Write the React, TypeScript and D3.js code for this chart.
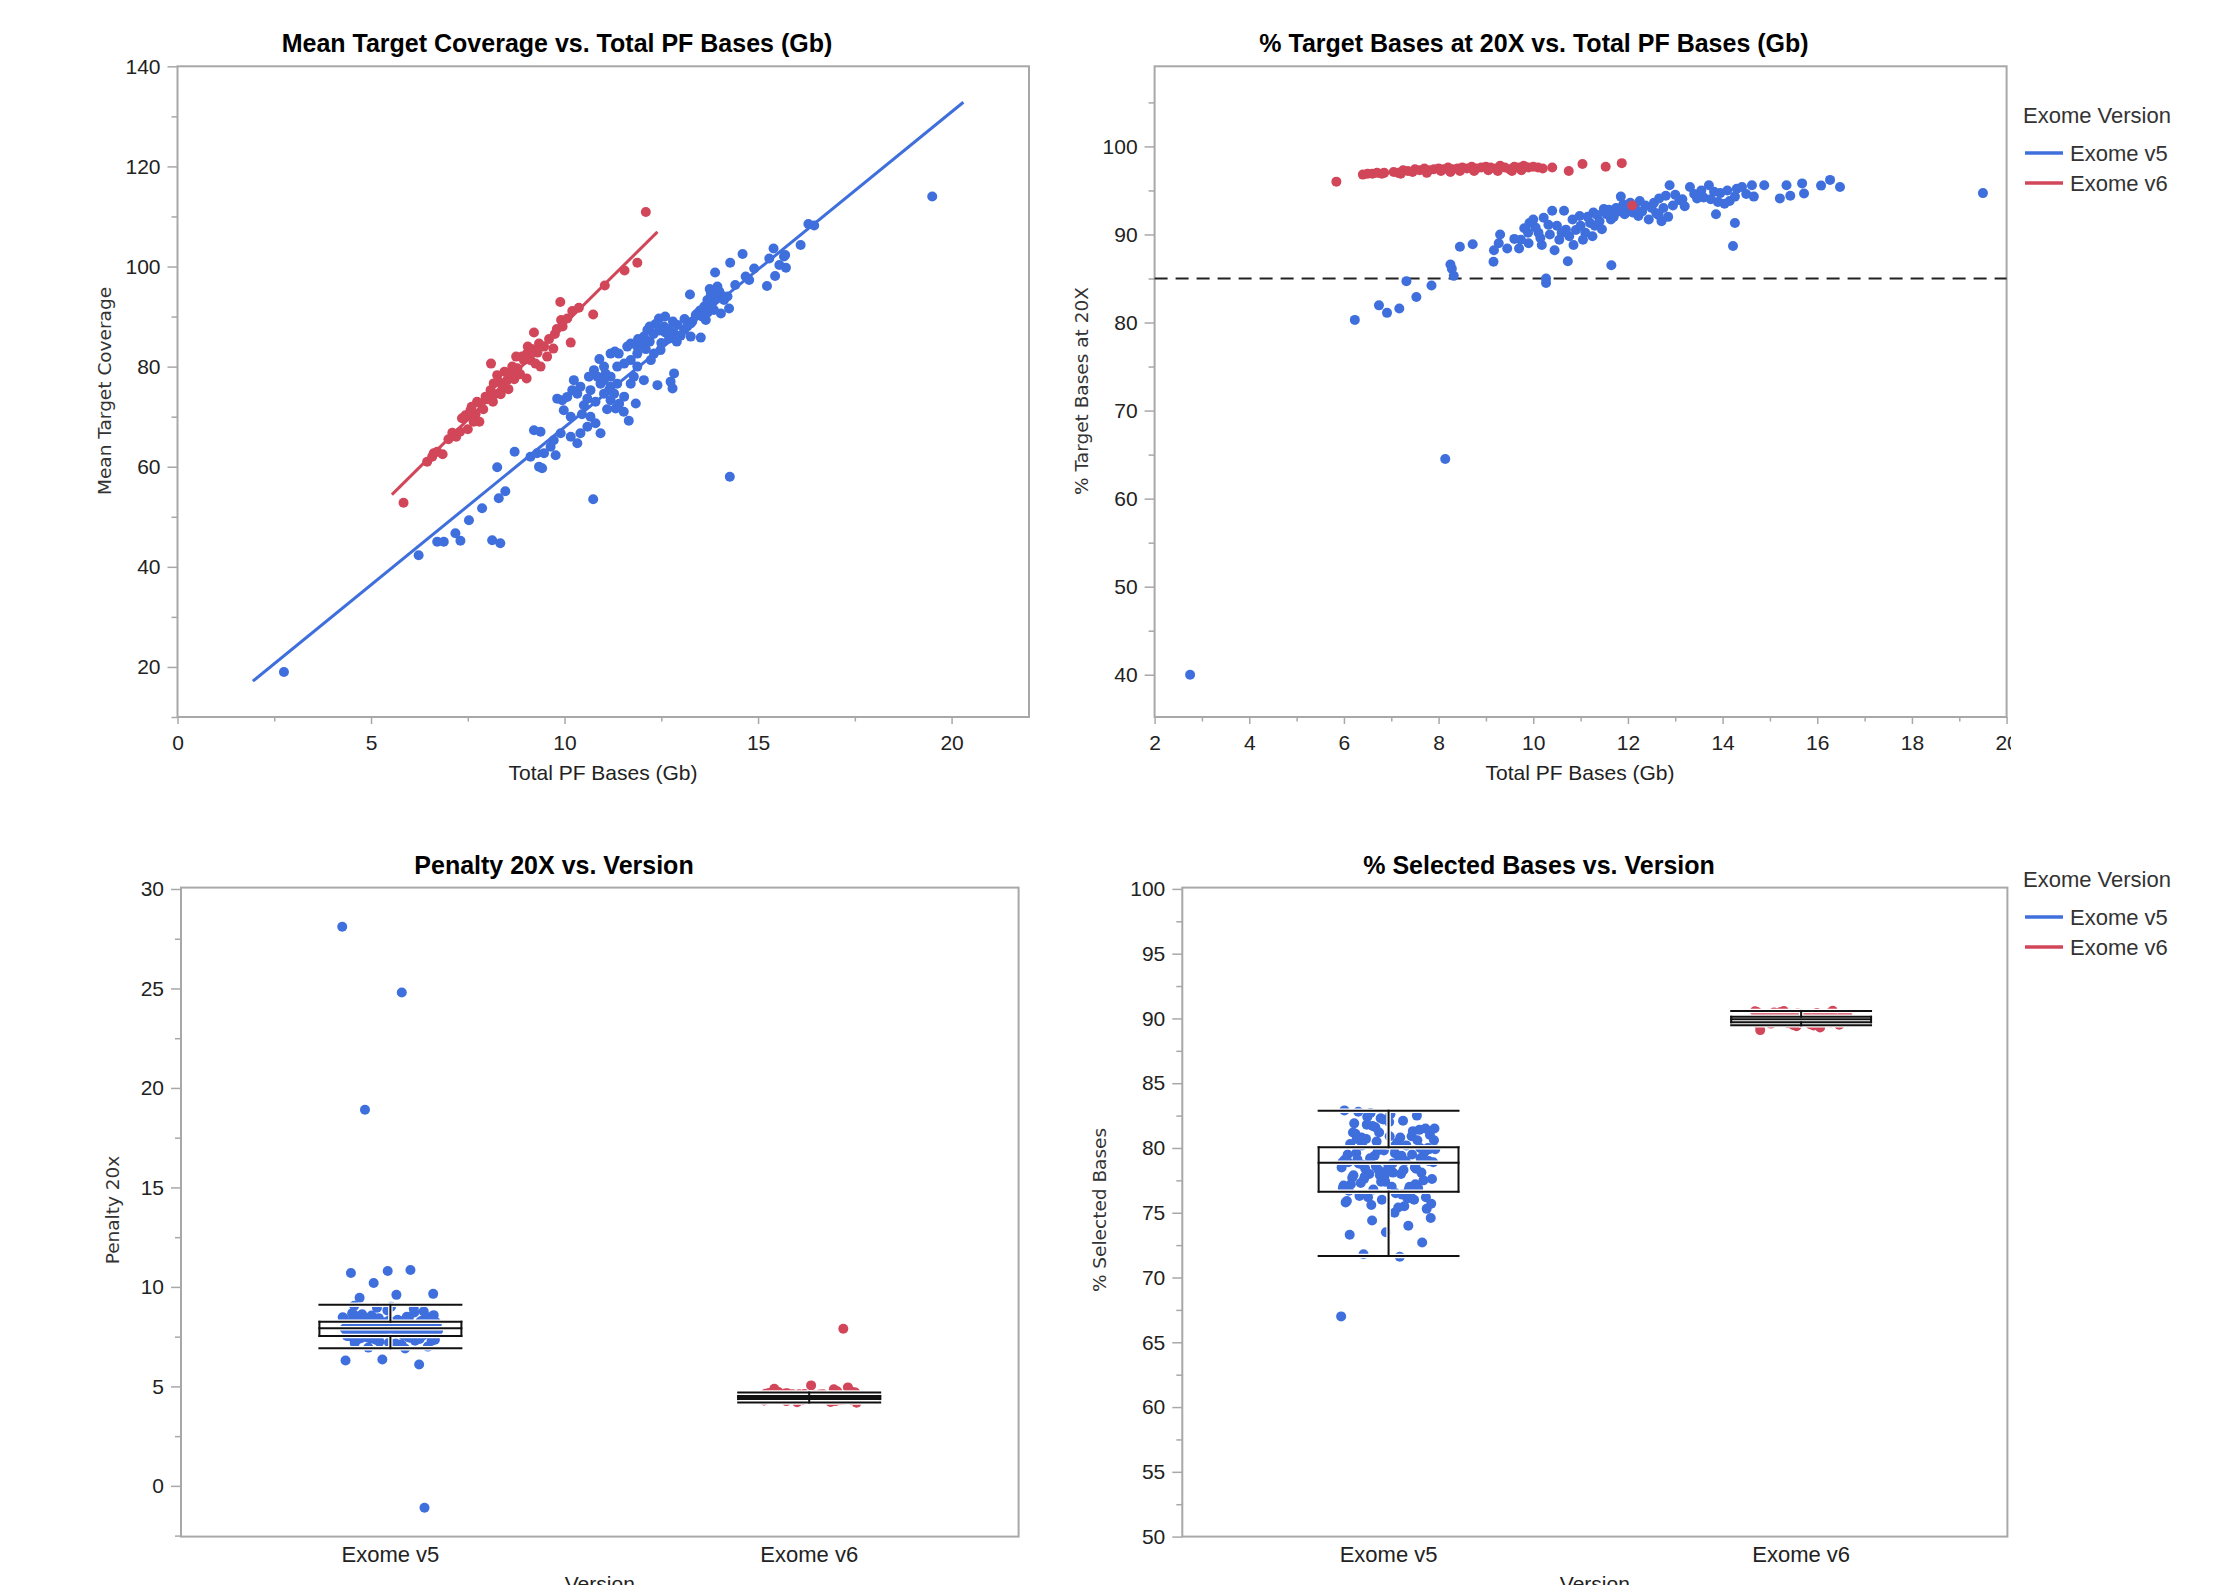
import React, { useEffect, useRef } from 'react';
import * as d3 from 'd3';

type Pt = [number, number];

const BLUE = '#3f6fdd';
const RED = '#d2465a';
const FRAME = '#a8a8a8';

const versions = ['Exome v5', 'Exome v6'];

// Mean Target Coverage vs Total PF Bases (Gb): [Gb, coverage]
const v5Coverage: Pt[] = [
  [2.75, 19.0], [6.23, 42.3], [6.71, 45.0], [6.88, 45.0], [7.18, 46.7], [7.31, 45.2], [7.53, 49.3], [7.87, 51.7],
  [8.13, 45.3], [8.34, 44.7], [8.3, 53.7], [8.47, 55.1], [8.26, 59.9], [8.71, 63.0], [9.12, 62.0], [9.29, 62.7],
  [9.47, 62.7], [9.34, 60.0], [9.42, 59.7], [9.77, 62.3], [9.21, 67.3], [9.38, 67.0], [9.64, 64.0], [9.72, 65.3],
  [9.9, 66.7], [10.16, 66.0], [10.33, 64.7], [10.41, 66.7], [10.59, 68.0], [10.93, 66.7], [10.8, 68.7], [10.67, 70.0],
  [10.16, 70.0], [9.98, 71.3], [9.81, 73.6], [9.94, 73.3], [10.07, 73.95], [10.2, 75.3], [10.33, 74.6], [10.5, 72.3],
  [10.59, 73.6], [10.67, 75.3], [10.63, 78.0], [10.76, 79.3], [10.85, 78.0], [11.02, 80.0], [11.06, 78.6], [11.19, 78.0],
  [10.93, 76.6], [11.02, 74.6], [11.19, 73.3], [11.36, 76.6], [10.74, 53.5], [14.27, 58.0],
  [11.19, 82.6], [11.4, 82.6], [11.62, 84.0], [11.71, 81.3], [11.88, 82.6], [12.31, 82.6], [12.48, 83.3], [12.7, 85.6],
  [12.83, 86.6], [12.92, 88.3], [12.57, 88.0], [12.05, 86.0], [12.14, 87.3], [12.44, 89.6], [12.4, 76.3], [12.79, 75.65],
  [12.83, 78.65], [12.74, 77.0], [11.84, 72.65], [11.66, 69.2], [11.53, 71.0], [11.32, 71.65],
  [11.71, 84.6], [11.88, 84.0], [11.54, 80.6], [11.36, 80.0], [11.79, 78.0], [11.71, 76.6], [12.05, 77.3], [11.88, 80.0],
  [12.23, 81.3], [11.02, 77.3], [11.54, 74.0], [11.28, 74.6], [11.41, 72.6], [11.15, 75.3], [10.41, 76.0], [10.24, 77.3],
  [11.19, 76.0], [10.8, 73.0], [11.1, 71.5], [10.45, 70.5], [10.9, 81.5], [11.3, 83.0],
  [12.2, 85.0], [12.3, 86.5], [12.6, 86.8], [12.0, 84.5], [12.5, 84.7], [12.7, 87.5], [12.35, 88.5], [12.9, 85.0],
  [13.0, 86.2], [12.1, 83.5], [12.8, 89.0], [12.6, 90.0], [12.2, 88.0], [11.9, 85.5], [12.45, 87.2], [13.1, 89.5],
  [13.3, 89.0], [13.5, 91.2],
  [13.26, 86.0], [13.52, 85.8], [13.43, 90.6], [13.61, 92.0], [13.69, 93.3], [13.78, 94.6], [13.95, 96.0], [14.04, 94.3],
  [13.86, 91.3], [13.65, 89.3], [13.39, 90.3], [14.12, 93.3], [14.25, 91.6], [14.04, 90.6], [13.26, 88.6], [13.09, 87.3],
  [13.17, 88.0], [13.24, 94.4], [14.21, 94.0], [14.41, 96.3], [13.8, 92.5], [13.7, 90.8], [13.9, 93.8], [14.0, 95.0],
  [13.55, 90.0], [13.75, 95.5],
  [15.4, 103.6], [15.29, 101.6], [15.67, 102.0], [14.6, 102.5], [14.28, 100.75], [13.89, 98.8], [14.9, 99.6], [14.68, 98.0],
  [14.77, 97.3], [15.23, 96.1], [15.44, 98.1], [15.72, 99.75], [16.3, 108.5], [16.45, 108.2], [16.1, 104.3], [15.7, 102.3],
  [15.55, 100.3], [19.5, 114.0],
];

const v6Coverage: Pt[] = [
  [5.84, 52.8], [6.45, 61.0], [6.58, 62.0], [6.62, 62.7], [6.71, 63.0], [6.85, 62.5], [7.0, 65.5], [7.1, 66.8],
  [7.2, 66.0], [7.35, 69.7], [7.44, 70.3], [7.57, 71.3], [7.5, 67.5], [7.65, 69.0], [7.74, 73.0], [7.83, 72.65],
  [7.96, 74.0], [7.6, 72.0], [7.7, 70.5], [7.9, 71.5], [8.09, 75.3], [8.17, 76.65], [8.26, 78.3], [8.1, 80.6],
  [8.0, 73.5], [8.2, 74.5], [8.3, 77.0], [8.52, 77.3], [8.6, 78.65], [8.78, 79.65], [8.95, 81.3], [9.03, 82.6],
  [9.02, 77.65], [8.4, 76.0], [8.45, 79.0], [8.65, 80.0], [8.7, 77.5], [8.85, 78.5], [8.9, 82.0], [9.12, 81.3],
  [9.25, 80.6], [9.38, 80.0], [9.21, 86.8], [9.34, 84.6], [9.47, 84.0], [9.55, 82.0], [9.71, 83.6], [9.15, 83.5],
  [9.3, 82.8], [9.6, 85.5], [9.89, 92.9], [9.91, 89.3], [10.07, 89.6], [10.2, 91.1], [10.37, 91.75], [10.16, 84.8],
  [10.74, 90.4], [11.04, 96.2], [11.55, 99.2], [11.88, 100.75], [12.1, 110.9], [9.75, 86.5], [9.95, 88.0], [9.8, 87.5],
  [8.35, 74.5], [8.55, 75.5], [7.8, 69.0], [7.3, 67.0], [8.15, 73.0], [8.75, 82.0], [9.05, 84.0],
];

// fitted lines: [intercept, slope]
const v5CoverageFit: Pt = [4.9, 6.3];
const v6CoverageFit: Pt = [12.05, 7.65];

// % Target Bases at 20X vs Total PF Bases (Gb)
const v5Pct20: Pt[] = [
  [2.75, 40.0], [8.14, 64.5], [6.23, 80.3], [6.74, 81.95], [6.91, 81.1], [7.17, 81.6], [7.53, 82.9], [7.85, 84.2],
  [7.32, 84.7], [8.25, 86.6], [8.28, 86.1], [8.32, 85.3], [8.45, 88.6], [8.72, 88.9], [9.16, 86.9], [9.17, 88.2],
  [9.27, 89.0], [9.3, 90.0], [9.45, 88.4], [9.7, 88.4], [9.74, 89.4], [9.89, 90.2], [9.92, 91.3], [10.0, 91.7],
  [9.81, 90.7], [10.11, 90.2], [10.18, 88.8], [10.22, 91.9], [10.32, 91.1], [10.4, 92.7], [10.27, 85.0], [10.27, 84.5],
  [10.73, 86.95], [10.76, 89.8], [10.69, 90.55], [10.65, 92.7], [10.83, 91.7], [10.98, 92.1], [11.05, 89.4], [11.2, 91.3],
  [11.27, 92.5], [11.49, 92.9], [11.64, 91.7], [11.65, 86.5], [11.85, 94.3], [11.93, 92.3], [12.22, 92.1], [12.37, 93.3],
  [12.44, 91.7], [12.66, 94.1], [12.71, 91.5], [12.88, 95.6], [12.95, 93.3], [13.09, 93.9], [13.31, 95.4], [13.46, 94.1],
  [13.71, 95.6], [13.82, 94.85], [13.9, 93.7], [13.86, 92.3], [14.04, 93.5], [14.26, 94.3], [14.26, 91.3], [14.22, 88.7],
  [14.41, 95.4], [14.62, 95.6], [14.66, 94.3], [14.88, 95.6], [15.21, 94.1], [15.35, 95.6], [15.43, 94.4], [15.68, 95.8],
  [15.72, 94.65], [16.08, 95.55], [16.27, 96.2], [16.48, 95.4], [19.5, 94.7],
  [9.6, 89.5], [9.9, 89.0], [10.05, 90.8], [10.15, 89.6], [10.35, 90.0], [10.5, 91.0], [10.55, 89.4], [10.6, 90.2],
  [10.9, 90.5], [11.0, 91.0], [11.1, 90.2], [11.15, 92.0], [11.3, 91.0], [11.35, 92.2], [11.4, 91.5], [11.55, 92.3],
  [11.6, 92.8], [11.7, 92.0], [11.75, 93.0], [11.8, 92.6], [11.9, 93.4], [12.0, 92.8], [12.05, 93.6], [12.1, 92.5],
  [12.15, 93.0], [12.25, 93.8], [12.3, 92.6], [12.5, 93.0], [12.55, 93.6], [12.6, 92.4], [12.75, 93.0], [12.8, 94.4],
  [13.0, 94.5], [13.15, 94.0], [13.2, 93.2], [13.4, 94.6], [13.55, 95.0], [13.6, 94.2], [13.75, 94.0], [13.95, 94.7],
  [14.1, 95.0], [14.15, 93.8], [14.3, 95.2], [14.5, 94.6], [10.45, 88.2], [10.85, 88.8], [11.25, 89.8], [11.45, 90.6],
  [12.65, 92.2], [12.85, 92.0],
];

const v6Pct20: Pt[] = [
  [5.84, 96.0], [6.4, 96.8], [6.5, 96.9], [6.6, 96.9], [6.7, 97.0], [6.8, 96.9], [6.85, 97.0], [7.05, 97.1],
  [7.15, 97.0], [7.25, 97.3], [7.35, 97.2], [7.45, 97.1], [7.5, 97.4], [7.6, 97.3], [7.7, 97.5], [7.8, 97.3],
  [7.9, 97.4], [8.0, 97.5], [8.1, 97.4], [8.2, 97.6], [8.3, 97.4], [8.4, 97.5], [8.5, 97.6], [8.6, 97.5],
  [8.7, 97.7], [8.8, 97.5], [8.9, 97.6], [9.0, 97.7], [9.1, 97.6], [9.2, 97.5], [9.3, 97.8], [9.4, 97.6],
  [9.5, 97.4], [9.6, 97.7], [9.7, 97.6], [9.8, 97.8], [9.9, 97.6], [10.0, 97.7], [10.1, 97.6], [10.2, 97.5],
  [10.4, 97.6], [10.75, 97.2], [11.04, 98.0], [11.53, 97.7], [11.87, 98.1], [12.09, 93.3],
  [7.2, 96.9], [7.75, 97.0], [8.25, 97.1], [8.75, 97.2], [9.25, 97.2], [9.75, 97.3], [8.05, 97.2], [8.45, 97.2],
  [9.05, 97.3], [9.55, 97.2],
];

const pct20Threshold = 85;

// Penalty 20x by version
const v5Penalty = [
  28.1, 24.8, 18.9, -1.1, 10.8, 10.7, 10.85, 10.2, 9.65, 9.6, 9.45, 6.1, 6.35, 6.3, 6.9, 6.95, 7.0, 9.0, 9.05, 8.9, 8.95,
  7.85, 8.12, 7.64, 8.31, 7.92, 8.05, 7.48, 8.56, 7.77, 8.21, 7.36, 8.02, 7.95, 8.44, 7.58, 8.17, 7.83, 7.21, 8.68, 7.99,
  8.09, 7.71, 8.35, 7.42, 8.26, 7.88, 7.55, 8.14, 7.97, 8.48, 7.67, 8.03, 7.29, 8.39, 7.81, 8.19, 7.62, 8.77, 7.93, 8.07,
  7.45, 8.28, 7.86, 7.15, 8.53, 7.74, 8.11, 7.9, 8.33, 7.52, 8.0, 7.69, 8.42, 7.96, 7.33, 8.24, 7.8, 8.62, 7.59, 8.15,
  7.87, 8.04, 7.4, 8.36, 7.76, 8.18, 7.94, 7.25, 8.47, 7.65, 8.08, 7.83, 8.29, 7.5, 8.01, 7.91, 8.58, 7.72, 8.13, 7.38,
  8.22, 7.98, 7.61, 8.4, 7.84, 8.06, 7.18, 8.71, 7.78, 8.16, 7.89, 8.32, 7.56, 8.1, 7.7, 8.45, 7.93, 7.3, 8.25, 7.82,
  8.03, 7.64, 8.38, 7.97, 7.47, 8.2, 7.75, 8.66, 7.88, 8.09, 7.35, 8.3, 7.68, 8.12, 7.95, 7.53, 8.5, 7.79, 8.0, 7.9,
  8.27, 7.63, 8.43, 7.85, 7.12, 8.17, 7.73, 8.82, 7.99, 8.05, 7.44, 8.35,
];
const v6Penalty = [
  7.9, 4.45, 4.52, 4.38, 4.61, 4.33, 4.48, 4.72, 4.41, 4.56, 4.29, 4.5, 4.66, 4.36, 4.44, 4.58, 4.25, 4.47, 4.69, 4.4,
  4.53, 4.31, 4.62, 4.46, 4.35, 4.55, 4.78, 4.42, 4.5, 4.27, 4.6, 4.39, 4.49, 4.64, 4.34, 4.57, 4.43, 4.22, 4.51, 4.7,
  4.37, 4.54, 4.46, 4.3, 4.63, 4.41, 4.48, 4.95, 5.05, 4.88, 4.85, 4.2, 4.18, 4.59, 4.45, 4.36, 4.53, 4.67, 4.4, 4.5,
  4.32, 4.56, 4.44, 4.75, 4.38, 4.47, 4.6, 4.26, 4.52, 4.42,
];
// [lower whisker, q1, median, q3, upper whisker]
const v5PenaltyBox = [6.92, 7.53, 7.92, 8.25, 9.1];
const v6PenaltyBox = [4.19, 4.36, 4.44, 4.52, 4.69];

// % Selected Bases by version
const v5Selected = [
  67.0, 71.6, 71.8, 72.7, 73.5, 73.3, 74.0, 74.4, 74.6, 75.0,
  82.8, 82.5, 82.3, 82.9, 82.1, 81.8, 81.5, 82.0, 81.2, 80.9, 81.6, 80.6, 80.3, 80.8, 80.0, 79.8, 79.5, 80.2, 79.2, 79.0,
  78.8, 79.6, 78.5, 78.3, 78.9, 78.0, 77.8, 77.5, 78.2, 77.2, 77.0, 76.8, 77.6, 76.5, 76.3, 76.9, 76.0, 75.8, 75.5, 76.2,
  75.3, 82.6, 81.9, 81.3, 80.5, 79.9, 79.3, 78.7, 78.1, 77.4, 76.7, 76.1, 75.6, 81.0, 80.1, 79.1, 78.4, 77.9, 77.1, 76.4,
  80.7, 79.7, 78.6, 77.7, 76.6, 79.4, 78.9, 80.4, 77.3, 81.4, 82.2, 75.9, 79.0, 78.0, 80.0, 77.0, 81.1, 76.0, 79.8, 78.5,
  80.8, 77.6, 79.3, 78.2, 80.3, 76.8, 81.7, 75.7, 79.6, 78.8, 80.6, 77.4, 79.1, 78.3, 82.4, 76.2, 80.9, 77.9, 79.5, 78.6,
  81.5, 75.4, 80.2, 79.2, 77.8, 78.9, 76.5, 82.7, 79.9, 78.1, 80.7, 77.2, 81.2, 76.9, 79.4, 78.4,
];
const v6Selected = [
  90.0, 89.9, 90.1, 89.8, 90.2, 89.7, 90.3, 89.6, 90.4, 89.5, 90.5, 89.95, 90.05, 89.85, 90.15, 89.75, 90.25, 89.65,
  90.35, 89.55, 90.45, 90.6, 89.4, 89.1, 90.02, 89.92, 90.12, 89.83, 90.21, 89.71, 90.33, 90.55, 89.45, 90.0, 89.88,
  90.12, 89.94, 90.08, 89.82, 90.18, 89.78, 90.22, 89.68, 90.32, 89.58, 90.42, 90.5, 89.52, 90.03, 89.97, 90.06, 89.93,
  90.14, 89.86, 90.27, 89.74, 90.38, 89.62, 89.3, 90.58,
];
const v5SelectedBox = [71.66, 76.63, 78.86, 80.05, 82.88];
const v6SelectedBox = [89.47, 89.7, 89.94, 90.13, 90.58];

type Box = { left: number; right: number; top: number; bottom: number };
type G = d3.Selection<SVGGElement, unknown, null, undefined>;

const SANS = '"Liberation Sans", Arial, sans-serif';
const VERD = '"DejaVu Sans", Verdana, sans-serif';
const R = 5;

function drawFrame(g: G, b: Box) {
  g.append('rect')
    .attr('x', b.left).attr('y', b.top)
    .attr('width', b.right - b.left).attr('height', b.bottom - b.top)
    .attr('fill', 'none').attr('stroke', FRAME).attr('stroke-width', 2);
}

function styleAxis(a: G) {
  a.select('.domain').remove();
  a.selectAll('line').attr('stroke', FRAME).attr('stroke-width', 1.5);
  a.selectAll('text').attr('fill', '#222').style('font-family', SANS).style('font-size', '21px');
}

function yAxis(g: G, y: d3.ScaleLinear<number, number>, b: Box, majors: number[], minors: number[]) {
  const mn = g.append('g').attr('transform', `translate(${b.left},0)`)
    .call(d3.axisLeft(y).tickValues(minors).tickSize(6).tickFormat(() => ''));
  styleAxis(mn);
  const mj = g.append('g').attr('transform', `translate(${b.left},0)`)
    .call(d3.axisLeft(y).tickValues(majors).tickSize(10).tickPadding(7).tickFormat(d3.format('d')));
  styleAxis(mj);
}

function xAxis(g: G, x: d3.ScaleLinear<number, number>, b: Box, majors: number[], minors: number[]) {
  const mn = g.append('g').attr('transform', `translate(0,${b.bottom})`)
    .call(d3.axisBottom(x).tickValues(minors).tickSize(4.5).tickFormat(() => ''));
  styleAxis(mn);
  const mj = g.append('g').attr('transform', `translate(0,${b.bottom})`)
    .call(d3.axisBottom(x).tickValues(majors).tickSize(7).tickPadding(11).tickFormat(d3.format('d')));
  styleAxis(mj);
  return mj;
}

function title(g: G, text: string, cx: number, y: number) {
  g.append('text').attr('x', cx).attr('y', y).attr('text-anchor', 'middle')
    .style('font-family', SANS).style('font-size', '25px').style('font-weight', 'bold').attr('fill', '#000')
    .text(text);
}

function yTitle(g: G, text: string, cx: number, cy: number) {
  g.append('text').attr('transform', `translate(${cx},${cy}) rotate(-90)`)
    .attr('text-anchor', 'middle').attr('dominant-baseline', 'central')
    .style('font-family', VERD).style('font-size', '18.5px').attr('fill', '#333')
    .text(text);
}

function xTitle(g: G, text: string, cx: number, y: number) {
  g.append('text').attr('x', cx).attr('y', y).attr('text-anchor', 'middle')
    .style('font-family', SANS).style('font-size', '21px').attr('fill', '#222')
    .text(text);
}

function legend(g: G, x: number, y: number) {
  g.append('text').attr('x', x).attr('y', y).style('font-family', SANS).style('font-size', '22px')
    .attr('fill', '#333').text('Exome Version');
  [BLUE, RED].forEach((c, i) => {
    const yy = y + 30 + i * 30;
    g.append('line').attr('x1', x + 2).attr('x2', x + 40).attr('y1', yy).attr('y2', yy)
      .attr('stroke', c).attr('stroke-width', 3.5);
    g.append('text').attr('x', x + 47).attr('y', yy + 8).style('font-family', SANS).style('font-size', '22px')
      .attr('fill', '#333').text(versions[i]);
  });
}

function dots(g: G, pts: Pt[], x: (v: number) => number, y: (v: number) => number, color: string) {
  g.append('g').selectAll('circle').data(pts).enter().append('circle')
    .attr('cx', (d) => x(d[0])).attr('cy', (d) => y(d[1])).attr('r', R).attr('fill', color);
}

function boxPlot(g: G, cx: number, w: number, y: d3.ScaleLinear<number, number>, s: number[]) {
  const l = cx - w / 2;
  const r = cx + w / 2;
  const segs: [number, number, number, number][] = [
    [l, y(s[0]), r, y(s[0])],
    [l, y(s[4]), r, y(s[4])],
    [cx, y(s[0]), cx, y(s[1])],
    [cx, y(s[3]), cx, y(s[4])],
    [l, y(s[1]), r, y(s[1])],
    [l, y(s[3]), r, y(s[3])],
    [l, y(s[1]), l, y(s[3])],
    [r, y(s[1]), r, y(s[3])],
    [l, y(s[2]), r, y(s[2])],
  ];
  [['#fff', 4.5], ['#111', 2]].forEach(([c, sw]) => {
    g.append('g').selectAll('line').data(segs).enter().append('line')
      .attr('x1', (d) => d[0]).attr('y1', (d) => d[1]).attr('x2', (d) => d[2]).attr('y2', (d) => d[3])
      .attr('stroke', c as string).attr('stroke-width', sw as number).attr('stroke-linecap', 'square');
  });
}

// deterministic horizontal spread of points within a category
const spread = (i: number) => ((i * 0.6180339887) % 1) * 2 - 1;

function App() {
  const ref = useRef<SVGSVGElement>(null);

  useEffect(() => {
    const svg = d3.select(ref.current);
    svg.selectAll('*').remove();
    const root = svg.append('g') as unknown as G;

    // ---------- panel 1 ----------
    const b1: Box = { left: 177.5, right: 1029, top: 66.3, bottom: 717 };
    const x1 = d3.scaleLinear().domain([0, 22]).range([b1.left, b1.right]);
    const y1 = d3.scaleLinear().domain([10, 140]).range([b1.bottom, b1.top]);
    const p1 = root.append('g') as G;
    drawFrame(p1, b1);
    yAxis(p1, y1, b1, d3.range(20, 141, 20), d3.range(10, 141, 20));
    xAxis(p1, x1, b1, d3.range(0, 21, 5), d3.range(2.5, 22, 5));
    title(p1, 'Mean Target Coverage vs. Total PF Bases (Gb)', 557, 52);
    yTitle(p1, 'Mean Target Coverage', 104, 391);
    xTitle(p1, 'Total PF Bases (Gb)', 603, 780);
    const fitLine = (pts: Pt[], fit: Pt, color: string) => {
      const ext = d3.extent(pts, (d) => d[0]) as [number, number];
      const pad = (ext[1] - ext[0]) * 0.048;
      const xs = [ext[0] - pad, ext[1] + pad];
      p1.append('path')
        .attr('d', d3.line<number>().x((v) => x1(v)).y((v) => y1(fit[0] + fit[1] * v))(xs))
        .attr('stroke', color).attr('stroke-width', 3).attr('fill', 'none');
    };
    fitLine(v5Coverage, v5CoverageFit, BLUE);
    fitLine(v6Coverage, v6CoverageFit, RED);
    dots(p1, v5Coverage, x1, y1, BLUE);
    dots(p1, v6Coverage, x1, y1, RED);

    // ---------- panel 2 ----------
    const b2: Box = { left: 1154.6, right: 2006.6, top: 66.3, bottom: 717 };
    const x2 = d3.scaleLinear().domain([2, 20]).range([b2.left, b2.right]);
    const y2 = d3.scaleLinear().domain([35.2, 109.1]).range([b2.bottom, b2.top]);
    const p2 = root.append('g') as G;
    svg.append('defs').append('clipPath').attr('id', 'clip2')
      .append('rect').attr('x', 1100).attr('y', 0).attr('width', 2011 - 1100).attr('height', 800);
    drawFrame(p2, b2);
    yAxis(p2, y2, b2, d3.range(40, 101, 10), d3.range(45, 106, 10));
    const xa2 = xAxis(p2, x2, b2, d3.range(2, 21, 2), d3.range(3, 20, 2));
    xa2.attr('clip-path', 'url(#clip2)');
    title(p2, '% Target Bases at 20X vs. Total PF Bases (Gb)', 1534, 52);
    yTitle(p2, '% Target Bases at 20X', 1081, 391);
    xTitle(p2, 'Total PF Bases (Gb)', 1580, 780);
    p2.append('line').attr('x1', b2.left).attr('x2', b2.right)
      .attr('y1', y2(pct20Threshold)).attr('y2', y2(pct20Threshold))
      .attr('stroke', '#222').attr('stroke-width', 2).attr('stroke-dasharray', '13,8');
    dots(p2, v5Pct20, x2, y2, BLUE);
    dots(p2, v6Pct20, x2, y2, RED);
    legend(p2, 2023, 123);

    // ---------- categorical panels ----------
    const catPanel = (
      b: Box, domain: [number, number], majors: number[], minors: number[],
      groups: number[][], boxes: number[][], ttl: string, tcx: number, ytl: string, ycx: number,
    ) => {
      const g = root.append('g') as G;
      const x = d3.scaleBand().domain(versions).range([b.left, b.right]);
      const y = d3.scaleLinear().domain(domain).range([b.bottom, b.top]);
      drawFrame(g, b);
      yAxis(g, y, b, majors, minors);
      const xa = g.append('g').attr('transform', `translate(0,${b.bottom})`)
        .call(d3.axisBottom(x).tickSize(0).tickPadding(10)) as G;
      styleAxis(xa);
      xa.selectAll('text').style('font-size', '22px');
      title(g, ttl, tcx, 874);
      yTitle(g, ytl, ycx, 1210);
      xTitle(g, 'Version', (b.left + b.right) / 2, 1591);
      const bw = x.bandwidth();
      versions.forEach((v, k) => {
        const cx = (x(v) as number) + bw / 2;
        g.append('g').selectAll('circle').data(groups[k]).enter().append('circle')
          .attr('cx', (_d, i) => cx + spread(i + 3 * k) * bw * 0.115)
          .attr('cy', (d) => y(d)).attr('r', R).attr('fill', k === 0 ? BLUE : RED);
      });
      versions.forEach((v, k) => {
        const cx = (x(v) as number) + bw / 2;
        boxPlot(g, cx, bw * 0.339, y, boxes[k]);
      });
      return g;
    };

    catPanel(
      { left: 181, right: 1018.6, top: 887.6, bottom: 1536.6 }, [-2.55, 30.07],
      d3.range(0, 31, 5), d3.range(-2.5, 30, 5), [v5Penalty, v6Penalty], [v5PenaltyBox, v6PenaltyBox],
      'Penalty 20X vs. Version', 554, 'Penalty 20x', 112,
    );
    const p4 = catPanel(
      { left: 1182.3, right: 2007.4, top: 887.6, bottom: 1536.6 }, [50, 100.1],
      d3.range(50, 101, 5), d3.range(52.5, 100, 5), [v5Selected, v6Selected], [v5SelectedBox, v6SelectedBox],
      '% Selected Bases vs. Version', 1539, '% Selected Bases', 1099,
    );
    legend(p4, 2023, 887);
  }, []);

  return (
    <div style={{ position: 'absolute', left: 0, top: 0 }}>
      <svg ref={ref} width={2222} height={1585} style={{ display: 'block', background: '#fff' }} />
    </div>
  );
}

export default App;
